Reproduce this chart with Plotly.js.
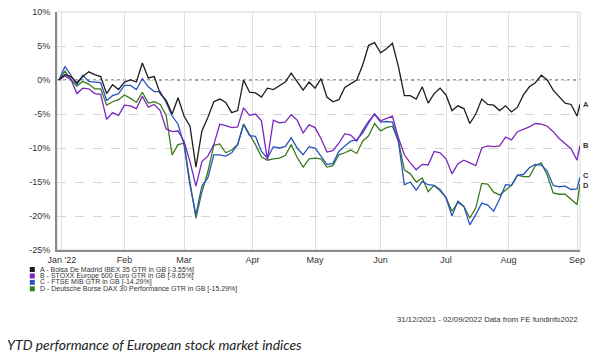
<!DOCTYPE html>
<html><head><meta charset="utf-8">
<script src="https://cdn.plot.ly/plotly-3.0.1.min.js"></script>
<style>html,body{margin:0;padding:0;background:#fff;}#chart{width:589px;height:356px;}</style>
</head><body><div id="chart"></div>
<script>
// Start date of the series (31/12/2021); samples every 2nd trading day, plus the final day
const START = '2021-12-31';
const LAST_DAY = 175;

const seriesNames = [
  'A - Bolsa De Madrid IBEX 35 GTR in GB [-3.55%]',
  'B - STOXX Europe 600 Euro GTR in GB [-9.65%]',
  'C - FTSE MIB GTR in GB [-14.29%]',
  'D - Deutsche Borse DAX 30 Performance GTR in GB [-15.29%]'
];
const seriesLetters = ['A','B','C','D'];

const ibex = [0, 0.8, 0.5, -0.4, 0.5, 1.2, 0.8, 0.5, -2.0, -0.7,
 -1.4, -0.3, 0.0, -0.3, 2.5, 0.3, 0.5, -2.0, -3.0, -5.0,
 -2.6, -5.3, -6.8, -12.8, -7.5, -5.5, -3.2, -2.8, -3.3, -4.8,
 -4.5, 0.0, -1.8, -1.9, -2.5, -1.2, -1.4, -0.8, -0.3, 1.0,
 -0.2, -1.5, -0.3, -1.2, 0.2, -2.5, -3.2, -2.9, -1.1, -0.6,
 0.0, 2.2, 5.1, 5.5, 4.0, 4.6, 5.4, 2.0, -2.3, -2.3,
 -2.8, -1.0, -3.4, -2.0, -1.2, -2.2, -4.5, -3.8, -4.2, -6.4,
 -5.0, -2.8, -3.6, -3.7, -4.5, -3.8, -4.7, -4.0, -2.2, -1.0,
 -0.4, 0.7, 0.0, -1.5, -2.5, -3.4, -3.6, -5.3,
 -3.55];

const stoxx = [0, 0.6, 0.1, -2.0, -1.2, -1.3, -2.0, -2.1, -5.8, -4.8,
 -5.2, -3.7, -3.8, -4.2, -2.4, -4.0, -3.6, -4.5, -7.2, -7.6,
 -7.5, -9.0, -12.0, -15.6, -12.0, -11.2, -9.5, -6.5, -6.7, -7.0,
 -6.9, -4.1, -5.2, -5.0, -6.0, -11.7, -5.9, -6.3, -6.2, -5.1,
 -5.9, -7.8, -6.6, -7.0, -8.6, -10.6, -10.4, -9.3, -7.9, -8.1,
 -9.0, -7.4, -6.1, -5.0, -6.0, -5.6, -5.3, -8.5, -11.0, -12.2,
 -13.2, -12.4, -12.5, -10.5, -10.7, -11.6, -13.8, -12.3, -11.8, -12.2,
 -12.6, -10.0, -9.7, -9.8, -9.7, -8.4, -8.8, -7.6, -7.3, -6.9,
 -6.4, -6.5, -6.8, -7.6, -8.6, -9.4, -10.1, -11.8,
 -9.65];

const ftseMib = [0, 2.0, 0.7, -0.7, 0.7, -0.2, -0.3, -0.4, -3.0, -2.3,
 -2.0, -0.8, -0.8, -1.4, 0.2, -1.0, -1.7, -1.7, -3.3, -5.3,
 -6.5, -9.5, -15.5, -19.8, -15.6, -14.4, -11.0, -11.0, -11.2, -10.7,
 -9.5, -6.5, -8.2, -8.3, -10.5, -11.5, -9.8, -10.0, -9.8, -8.5,
 -10.0, -11.0, -9.8, -10.0, -11.2, -12.4, -12.3, -10.5, -9.7, -9.0,
 -8.8, -7.8, -6.3, -5.0, -6.2, -6.1, -6.2, -9.0, -15.4, -15.0,
 -16.2, -14.9, -15.4, -15.5, -16.1, -17.3, -20.0, -17.8, -18.6, -21.3,
 -19.8, -18.1, -18.4, -19.3, -17.5, -15.4, -15.5, -14.0, -13.9, -12.9,
 -12.4, -12.5, -13.4, -15.5, -15.7, -15.6, -16.1, -16.0,
 -14.29];

const dax = [0, 1.3, 0.1, -0.9, -0.2, -0.6, -1.3, -1.3, -3.7, -3.2,
 -2.9, -2.2, -2.7, -3.3, -1.8, -3.4, -3.2, -3.6, -5.2, -11.0,
 -9.5, -9.3, -15.0, -20.3, -16.5, -13.5, -9.6, -9.4, -10.7, -10.3,
 -9.5, -6.5, -8.0, -9.5, -11.3, -11.8, -11.6, -11.5, -11.1, -9.5,
 -11.4, -12.8, -11.6, -11.5, -11.6, -12.8, -12.6, -11.0, -10.7, -10.3,
 -10.8, -9.0, -8.2, -6.4, -7.5, -7.0, -6.8, -9.0, -13.2, -13.8,
 -15.0, -14.4, -16.4, -15.5, -16.3, -17.3, -19.3, -18.0, -18.6, -20.3,
 -18.8, -15.2, -15.3, -16.5, -16.9, -16.2, -15.5, -14.0, -14.2, -14.2,
 -12.6, -12.2, -14.0, -16.6, -16.8, -16.8, -17.5, -18.3,
 -15.29];

const tickDates = ['2022-01-03','2022-02-01','2022-03-01','2022-04-01','2022-05-02','2022-06-01','2022-07-01','2022-08-01','2022-09-01'];
const tickLabels = ["Jan '22",'Feb','Mar','Apr','May','Jun','Jul','Aug','Sep'];
const yTicks = [10, 5, 0, -5, -10, -15, -20, -25];

const footerText = '31/12/2021 - 02/09/2022 Data from FE fundinfo2022';
const captionText = 'YTD performance of European stock market indices';

const colors = ['#1e1e1e', '#7a26bd', '#2a55c0', '#3c7a1e'];

function weekday(n) {
  const p = START.split('-').map(Number);
  const d = new Date(Date.UTC(p[0], p[1]-1, p[2]));
  let c = 0;
  while (c < n) {
    d.setUTCDate(d.getUTCDate() + 1);
    const w = d.getUTCDay();
    if (w !== 0 && w !== 6) c++;
  }
  return d.toISOString().slice(0, 10);
}
const dayIdx = [];
for (let i = 0; i < LAST_DAY; i += 2) dayIdx.push(i);
dayIdx.push(LAST_DAY);
const xDates = dayIdx.map(weekday);

const allSeries = [ibex, stoxx, ftseMib, dax];
const traces = [];
for (let k = 3; k >= 0; k--) {
  traces.push({
    type: 'scatter', mode: 'lines', x: xDates, y: allSeries[k], name: seriesNames[k],
    line: {color: colors[k], width: 1.3}, showlegend: false, hoverinfo: 'skip'
  });
}

const FONT = 'Liberation Sans, Arial, sans-serif';
const annotations = [];
const shapes = [
  {type: 'rect', xref: 'paper', yref: 'paper', x0: 0, x1: 1, y0: 0, y1: 1, line: {color: '#d6d6d6', width: 1}, layer: 'below'},
  {type: 'line', xref: 'paper', yref: 'y', x0: 0, x1: 1, y0: 0, y1: 0, line: {color: '#444', width: 1, dash: 'dot'}, layer: 'below'}
];
const endShift = [0, 0, 1.5, -1.5];
allSeries.forEach((s, k) => {
  annotations.push({xref: 'paper', yref: 'y', x: 1, y: s[s.length-1], xanchor: 'left', yanchor: 'middle',
    xshift: 1, yshift: endShift[k], text: '<b>' + seriesLetters[k] + '</b>', showarrow: false,
    font: {family: FONT, size: 7.5, color: '#333'}});
});
const legendY = [-0.082, -0.109, -0.136, -0.163];
seriesNames.forEach((n, k) => {
  shapes.push({type: 'rect', xref: 'paper', yref: 'paper', x0: -0.052, x1: -0.0425,
    y0: legendY[k] - 0.0105, y1: legendY[k] + 0.0105, fillcolor: colors[k], line: {width: 0}});
  annotations.push({xref: 'paper', yref: 'paper', x: -0.036, y: legendY[k], xanchor: 'left', yanchor: 'middle',
    text: n, showarrow: false, font: {family: FONT, size: 7, color: '#333'}});
});
annotations.push({xref: 'paper', yref: 'paper', x: 1, y: -0.29, xanchor: 'right', yanchor: 'middle',
  text: footerText, showarrow: false, font: {family: FONT, size: 7.8, color: '#333'}});
annotations.push({xref: 'paper', yref: 'paper', x: -0.1, y: -0.395, xanchor: 'left', yanchor: 'middle',
  text: '<i>' + captionText + '</i>', showarrow: false, font: {family: 'Lato, Open Sans, sans-serif', size: 13.9, color: '#222'}});

const layout = {
  width: 589, height: 356,
  margin: {l: 57, r: 9, t: 12, b: 106, pad: 0},
  paper_bgcolor: '#fff', plot_bgcolor: '#fff',
  showlegend: false,
  xaxis: {
    type: 'date', range: ['2021-12-30 08:00', '2022-09-02'],
    rangebreaks: [{bounds: ['sat', 'mon']}],
    tickmode: 'array', tickvals: tickDates, ticktext: tickLabels,
    showgrid: true, gridcolor: '#dedede', gridwidth: 1,
    showline: true, linecolor: '#8a8a8a', linewidth: 2,
    ticks: '', zeroline: false, fixedrange: true,
    tickfont: {family: FONT, size: 9, color: '#333'}
  },
  yaxis: {
    range: [-25, 10], tickmode: 'array', tickvals: yTicks, ticktext: yTicks.map(v => v + '%'),
    showgrid: true, gridcolor: '#d4d4d4', gridwidth: 1, griddash: 'dash',
    showline: true, linecolor: '#8a8a8a', linewidth: 2,
    ticks: '', zeroline: false, ticklabelstandoff: 3, fixedrange: true,
    tickfont: {family: FONT, size: 9, color: '#333'}
  },
  shapes: shapes,
  annotations: annotations
};

Plotly.newPlot('chart', traces, layout, {staticPlot: true, displayModeBar: false});
</script>
</body></html>
